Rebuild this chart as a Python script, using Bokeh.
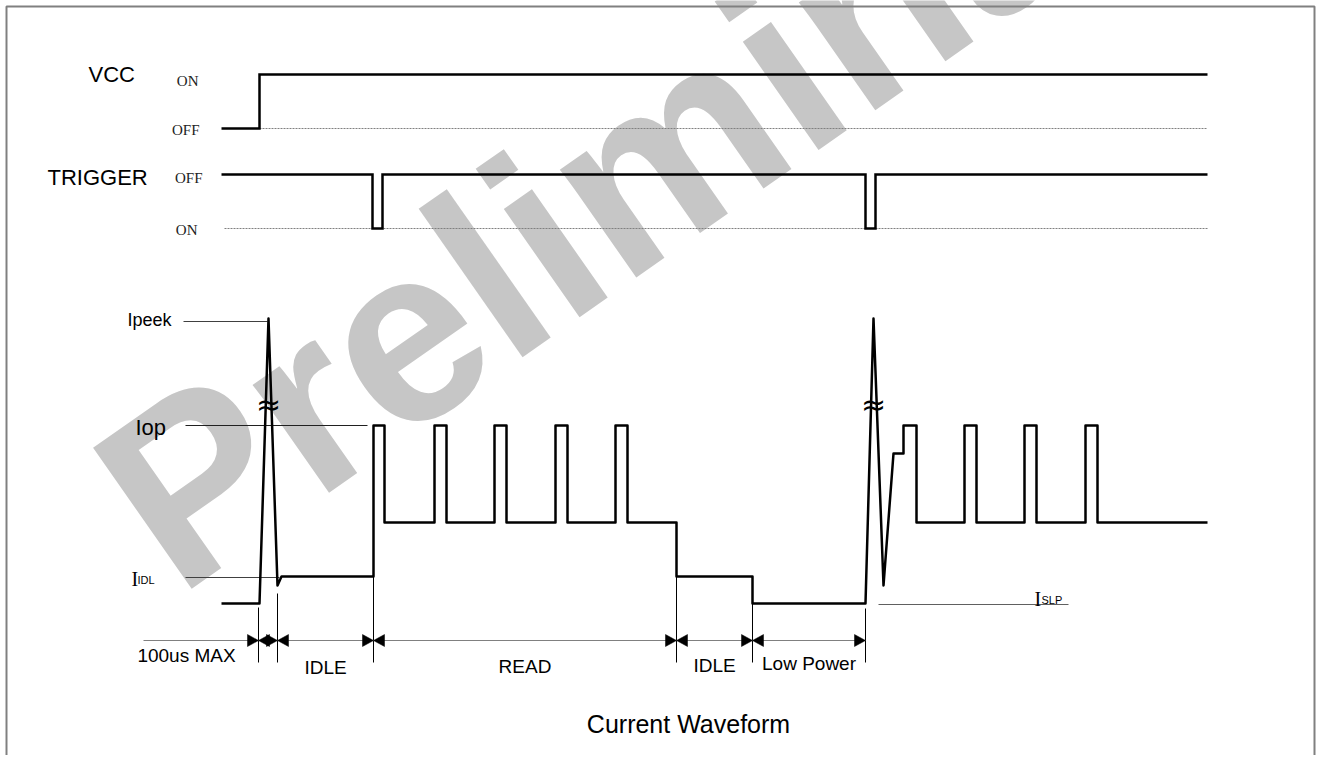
import math
from bokeh.plotting import figure
from bokeh.models import Range1d
from bokeh.core.properties import value
from bokeh.embed import file_html
from bokeh.resources import INLINE

# ---------------- data (time axis in diagram units, levels in diagram units) ----------------
VCC_ON, VCC_OFF = 74, 128
TRG_OFF, TRG_ON = 174, 228
I_PEAK, I_OP, I_READ, I_IDL, I_SLP = 318, 425, 522, 576, 603

vcc_t = [221, 259, 259, 1207]
vcc_v = [VCC_OFF, VCC_OFF, VCC_ON, VCC_ON]

trig_t = [221, 372, 372, 382, 382, 865, 865, 875, 875, 1207]
trig_v = [TRG_OFF, TRG_OFF, TRG_ON, TRG_ON, TRG_OFF, TRG_OFF, TRG_ON, TRG_ON, TRG_OFF, TRG_OFF]

cur_t = [221, 259, 268, 277, 281, 373, 373, 384, 384, 434, 434, 446, 446, 494, 494, 506, 506,
         555, 555, 567, 567, 615, 615, 627, 627, 676, 676, 752, 752, 865, 873, 883, 893, 903,
         903, 916, 916, 964, 964, 976, 976, 1024, 1024, 1036, 1036, 1085, 1085, 1097, 1097, 1207]
cur_v = [I_SLP, I_SLP, I_PEAK, 585, I_IDL, I_IDL, I_OP, I_OP, I_READ, I_READ, I_OP, I_OP, I_READ,
         I_READ, I_OP, I_OP, I_READ, I_READ, I_OP, I_OP, I_READ, I_READ, I_OP, I_OP, I_READ,
         I_READ, I_IDL, I_IDL, I_SLP, I_SLP, I_PEAK, 585, 453, 453, I_OP, I_OP, I_READ, I_READ,
         I_OP, I_OP, I_READ, I_READ, I_OP, I_OP, I_READ, I_READ, I_OP, I_OP, I_READ, I_READ]

phase_bounds = [258, 277, 373, 676, 752, 865]
phase_names = ["IDLE", "READ", "IDLE", "Low Power"]
spike_t = [268, 873]

# ---------------- figure ----------------
W, H = 1316, 755
p = figure(width=W, height=H, x_range=Range1d(0, W), y_range=Range1d(H, 0),
           output_backend="svg", toolbar_location=None, min_border=0)
p.xaxis.visible = False
p.yaxis.visible = False
p.xgrid.visible = False
p.ygrid.visible = False
p.outline_line_color = None
p.background_fill_color = "white"

SANS = value("Liberation Sans")
SERIF = value("Liberation Serif")

# watermark
p.text(x=[128], y=[527], text=["Preliminary"], angle=math.radians(35),
       text_font=SANS, text_font_style="bold", text_font_size="250px",
       text_color="#c6c6c6", text_align="left", text_baseline="alphabetic")

# frame (open at the bottom)
p.line(x=[6, 6, 1314, 1314], y=[H, 6, 6, H], line_color="#808080", line_width=2)

# dotted reference levels
p.line(x=[259, 1207], y=[VCC_OFF, VCC_OFF], line_color="#808080", line_width=1, line_dash="2 1")
p.line(x=[224, 1207], y=[TRG_ON, TRG_ON], line_color="#808080", line_width=1, line_dash="2 1")

# current reference lines
p.line(x=[183, 267], y=[I_PEAK + 3, I_PEAK + 3], line_color="#404040", line_width=1)
p.line(x=[185, 367], y=[I_OP, I_OP], line_color="#202020", line_width=1)
p.line(x=[185, 279], y=[I_IDL + 1, I_IDL + 1], line_color="#404040", line_width=1)
p.line(x=[878, 1068], y=[I_SLP + 1, I_SLP + 1], line_color="#606060", line_width=1)

# vertical phase separators
sep_top = [607, 593, 430, 576, 603, 608]
p.segment(x0=phase_bounds, y0=sep_top, x1=phase_bounds, y1=[662] * len(phase_bounds),
          line_color="black", line_width=1)

# dimension lines with arrow heads
ay = 640
p.line(x=[143, phase_bounds[-1]], y=[ay, ay], line_color="#808080", line_width=1)
hl, hw = 11, 6
hx, hy = [], []
for i, b in enumerate(phase_bounds):
    hx.append([b - hl, b, b - hl]); hy.append([ay - hw, ay, ay + hw])
    if i < len(phase_bounds) - 1:
        hx.append([b + hl, b, b + hl]); hy.append([ay - hw, ay, ay + hw])
p.patches(xs=hx, ys=hy, fill_color="black", line_color="black", line_width=0.5)

# waveforms
p.line(x=vcc_t, y=vcc_v, line_color="black", line_width=2.5, line_join="miter")
p.line(x=trig_t, y=trig_v, line_color="black", line_width=2.5, line_join="miter")
p.line(x=cur_t, y=cur_v, line_color="black", line_width=2.5, line_join="round")

# break marks on the spikes
p.text(x=spike_t, y=[404, 404], text=["\u2248", "\u2248"], text_font=value("DejaVu Sans"),
       text_font_size="30px", text_color="black", text_align="center", text_baseline="middle")

# signal names and state labels
p.text(x=[88, 47], y=[74, 177], text=["VCC", "TRIGGER"], text_font=SANS,
       text_font_size="22px", text_color="black", text_align="left", text_baseline="middle")
p.text(x=[198, 199, 202, 197], y=[80, 129, 177, 229], text=["ON", "OFF", "OFF", "ON"],
       text_font=SERIF, text_font_size="15px", text_color="#222222",
       text_align="right", text_baseline="middle")

# current level labels
p.text(x=[127], y=[319], text=["Ipeek"], text_font=SANS, text_font_size="18px",
       text_color="black", text_align="left", text_baseline="middle")
p.text(x=[135], y=[427], text=["Iop"], text_font=SANS, text_font_size="22px",
       text_color="black", text_align="left", text_baseline="middle")
p.text(x=[131, 1034], y=[578, 598], text=["I", "I"], text_font=SERIF, text_font_size="20px",
       text_color="black", text_align="left", text_baseline="alphabetic")
p.text(x=[137, 1041], y=[579, 599], text=["IDL", "SLP"], text_font=SANS, text_font_size="11px",
       text_color="black", text_align="left", text_baseline="alphabetic")

# phase labels
mids = [(a + b) / 2 for a, b in zip(phase_bounds[1:-1], phase_bounds[2:])]
p.text(x=mids, y=[667, 666, 665, 663], text=phase_names, text_font=SANS,
       text_font_size="19px", text_color="black", text_align="center", text_baseline="middle")
p.text(x=[186], y=[655], text=["100us MAX"], text_font=SANS, text_font_size="19px",
       text_color="black", text_align="center", text_baseline="middle")

# caption
p.text(x=[688], y=[723], text=["Current Waveform"], text_font=SANS, text_font_size="25px",
       text_color="black", text_align="center", text_baseline="middle")

open("out.html", "w").write(file_html(p, INLINE))
